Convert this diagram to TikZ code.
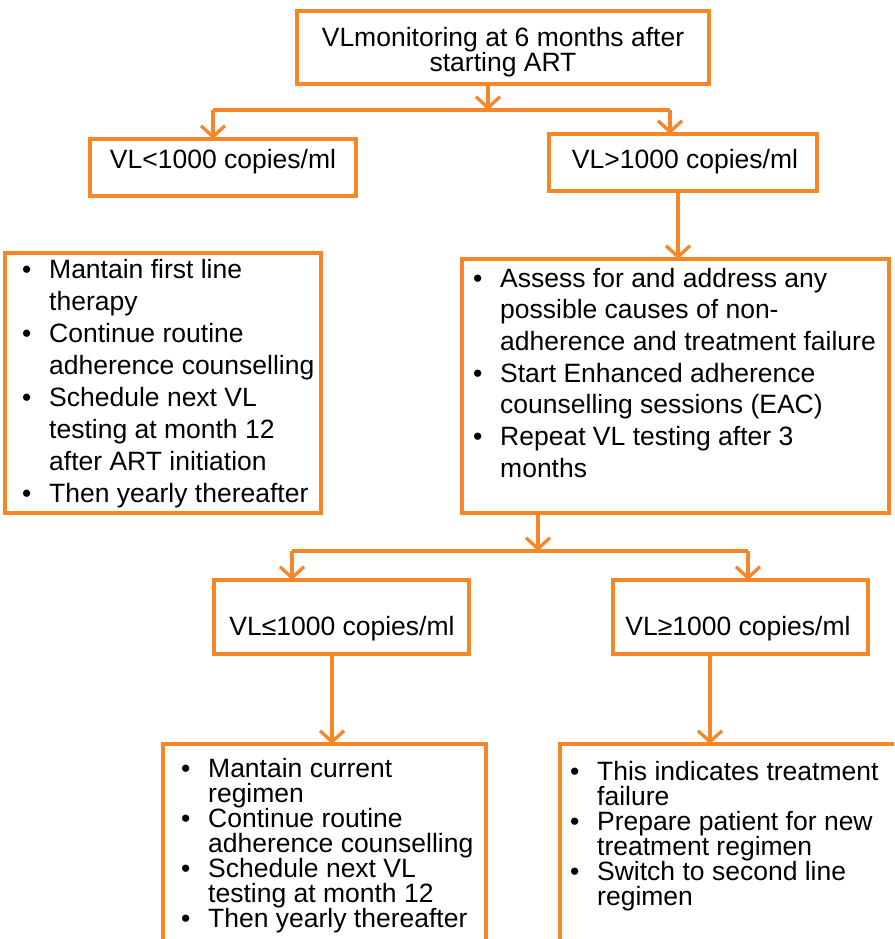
\documentclass[tikz,border=0pt]{standalone}
\usepackage{fontspec}
\setmainfont{Liberation Sans}
\usetikzlibrary{arrows.meta}
\definecolor{orn}{RGB}{246,134,38}
\newcommand{\bl}{\makebox[27pt][l]{•}}
\newcommand{\ind}{\hspace*{27pt}}
\begin{document}
\begin{tikzpicture}[x=1pt,y=-1pt,
  box/.style={draw=orn,line width=3.3pt,inner sep=0pt,outer sep=0pt,anchor=north west},
  ln/.style={draw=orn,line width=3.3pt},
  arr/.style={ln,-{Straight Barb[length=11pt,width=24pt,line width=3.3pt]}},
  txt/.style={inner sep=0pt,anchor=base,font=\fontsize{26.5}{25}\selectfont},
  lst/.style={inner sep=0pt,anchor=base west},
]
\path[use as bounding box] (0,0) rectangle (894,939);
\clip (0,0) rectangle (894,939);

% boxes
\node[box,minimum width=412pt,minimum height=73pt] (top) at (297,11) {};
\node[box,minimum width=266pt,minimum height=57pt] (L1) at (90,139) {};
\node[box,minimum width=268pt,minimum height=57pt] (R1) at (549,134) {};
\node[box,minimum width=316pt,minimum height=260pt] (LM) at (5,253) {};
\node[box,minimum width=427pt,minimum height=254pt] (RM) at (462,259) {};
\node[box,minimum width=255pt,minimum height=74pt] (L2) at (214,580) {};
\node[box,minimum width=255pt,minimum height=74pt] (R2) at (613,580) {};
\node[box,minimum width=323pt,minimum height=230pt] (LB) at (163,744) {};
\node[box,minimum width=360pt,minimum height=230pt] (RB) at (560,744) {};

% texts
\node[txt] (t0) at (503,47) {\parbox[t]{400pt}{\centering VLmonitoring at 6 months after\\starting ART}};
\node[txt] (tL1) at (223,168) {VL<1000 copies/ml};
\node[txt] (tR1) at (685,168) {VL>1000 copies/ml};
\node[txt] (tL2) at (342,635) {VL≤1000 copies/ml};
\node[txt] (tR2) at (738,635) {VL≥1000 copies/ml};

\node[lst] (tLM) at (22,278) {\parbox[t]{450pt}{\fontsize{26.5}{32}\selectfont
 \bl Mantain first line\\
 \ind therapy\\
 \bl Continue routine\\
 \ind adherence counselling\\
 \bl Schedule next VL\\
 \ind testing at month 12\\
 \ind after ART initiation\\
 \bl Then yearly thereafter}};
\node[lst] (tRM) at (473,287) {\parbox[t]{450pt}{\fontsize{26.5}{31.7}\selectfont
 \bl Assess for and address any\\
 \ind possible causes of non-\\
 \ind adherence and treatment failure\\
 \bl Start Enhanced adherence\\
 \ind counselling sessions (EAC)\\
 \bl Repeat VL testing after 3\\
 \ind months}};
\node[lst] (tLB) at (181,777) {\parbox[t]{450pt}{\fontsize{26.5}{25}\selectfont
 \bl Mantain current\\
 \ind regimen\\
 \bl Continue routine\\
 \ind adherence counselling\\
 \bl Schedule next VL\\
 \ind testing at month 12\\
 \bl Then yearly thereafter}};
\node[lst] (tRB) at (570,780) {\parbox[t]{450pt}{\fontsize{26.5}{25}\selectfont
 \bl This indicates treatment\\
 \ind failure\\
 \bl Prepare patient for new\\
 \ind treatment regimen\\
 \bl Switch to second line\\
 \ind regimen}};

% connectors
\coordinate (j1) at (488,110);
\coordinate (b1l) at (213,110);
\coordinate (b1r) at (670,110);
\draw[arr] (top.south -| j1) -- (j1);
\draw[ln] (b1l) -- (b1r);
\draw[arr] (b1l) -- (b1l |- L1.north);
\draw[arr] (b1r) -- (b1r |- R1.north);
\draw[arr] ([xshift=-5pt]R1.south) -- ([xshift=-5pt]R1.south |- RM.north);

\coordinate (j2) at (538,551);
\coordinate (b2l) at (292,551);
\coordinate (b2r) at (748,551);
\draw[arr] (RM.south -| j2) -- (j2);
\draw[ln] (b2l) -- (b2r);
\draw[arr] (b2l) -- (b2l |- L2.north);
\draw[arr] (b2r) -- (b2r |- R2.north);
\draw[arr] ([xshift=-9.5pt]L2.south) -- ([xshift=-9.5pt]L2.south |- LB.north);
\draw[arr] ([xshift=-30.5pt]R2.south) -- ([xshift=-30.5pt]R2.south |- RB.north);
\end{tikzpicture}
\end{document}
